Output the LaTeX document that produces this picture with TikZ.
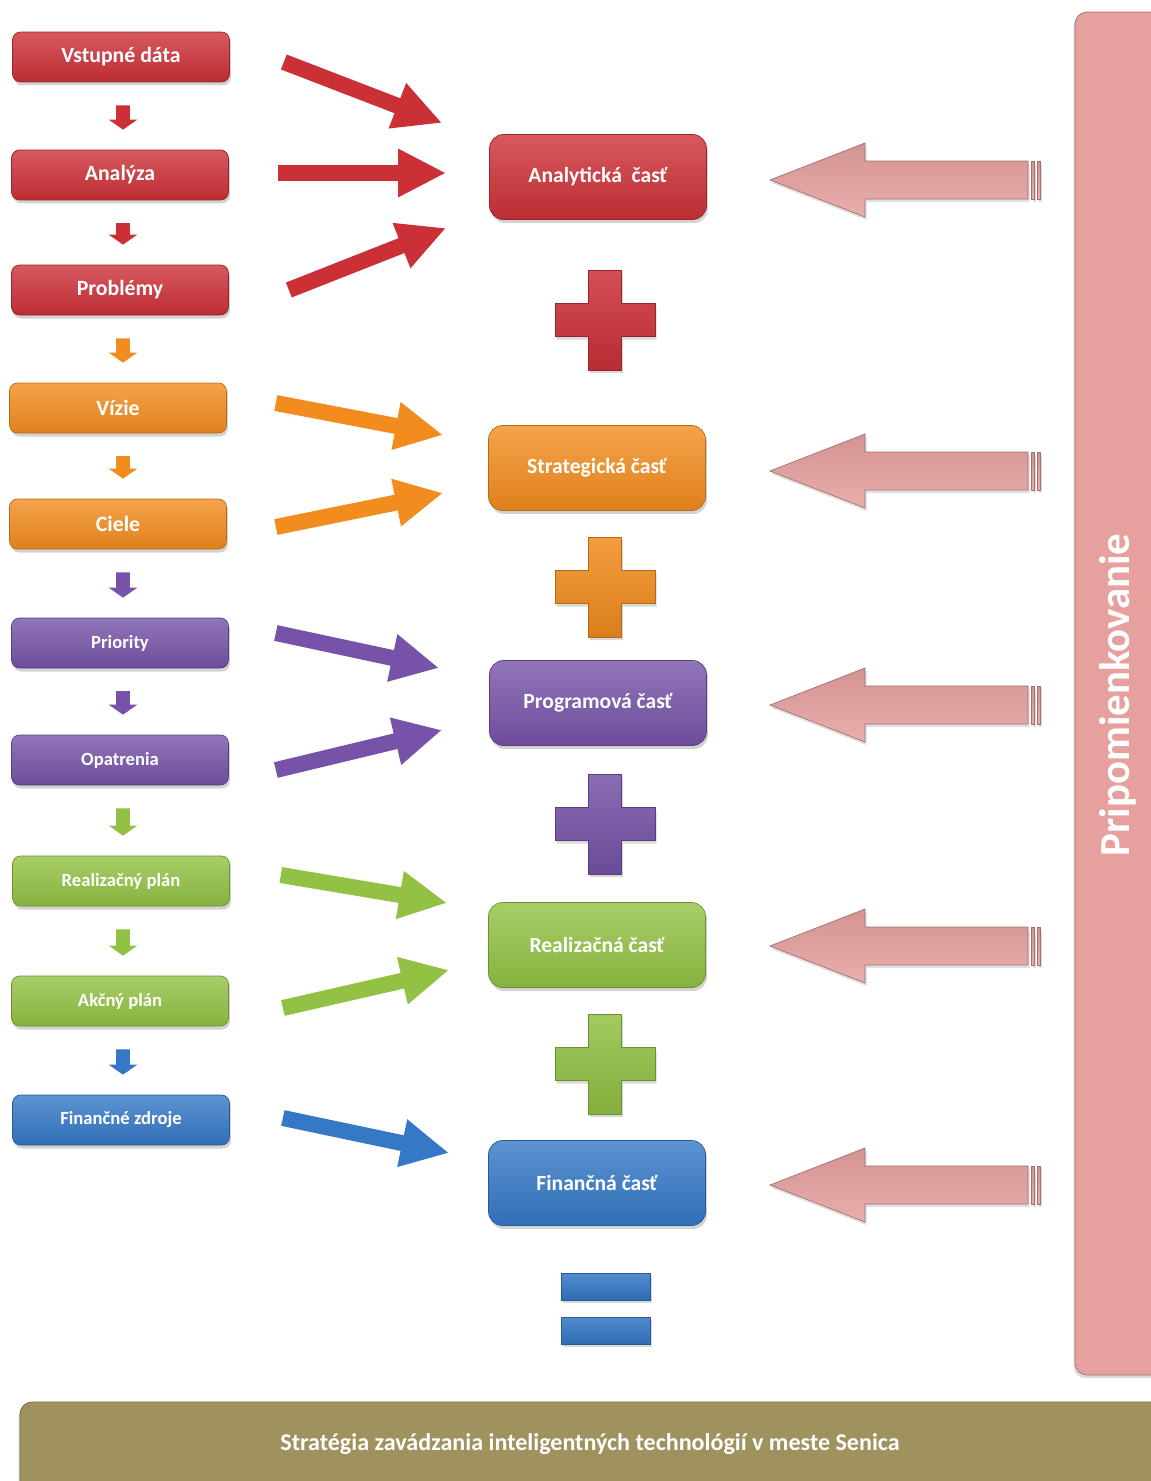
\documentclass[tikz,border=0pt]{standalone}
\usepackage{fontspec}
\setmainfont{Carlito}
\usetikzlibrary{positioning, calc, arrows.meta, shadows}

\definecolor{cred}{HTML}{CC3037}
\definecolor{corange}{HTML}{F28C1E}
\definecolor{cpurple}{HTML}{7653A8}
\definecolor{cgreen}{HTML}{92C143}
\definecolor{cblue}{HTML}{3478C6}
\definecolor{cpink}{HTML}{E6A09E}
\definecolor{colive}{HTML}{A0925E}

\begin{document}
\begin{tikzpicture}[x=0.02cm, y=-0.02cm,
    box/.style={rounded corners=0.16cm, minimum width=4.34cm, minimum height=1cm,
        draw=#1!75!black, top color=#1!80!white, bottom color=#1!92!black,
        text=white, font=\bfseries\fontsize{12.4}{14}\selectfont,
        drop shadow={opacity=0.35, shadow xshift=0.03cm, shadow yshift=-0.07cm}},
    smallbox/.style={box=#1, font=\bfseries\fontsize{10.6}{12}\selectfont},
    partbox/.style={box=#1, rounded corners=0.28cm, minimum height=1.7cm,
        font=\bfseries\fontsize{12.3}{14}\selectfont},
    smallarrow/.style={draw=#1, line width=0.28cm, shorten <=0.46cm, shorten >=0.4cm,
        -{Triangle[length=0.2cm, width=0.56cm]}},
    bigarrow/.style={draw=#1, line width=0.32cm, -{Triangle[length=0.96cm, width=0.9cm]}},
    plus/.style={draw=#1!75!black, top color=#1!85!white, bottom color=#1!90!black,
        drop shadow={opacity=0.3, shadow xshift=0.03cm, shadow yshift=-0.06cm}},
    pinkarrow/.style={draw=cpink!70!black, top color=cpink!92!black, bottom color=cpink!85!white,
        drop shadow={opacity=0.25, shadow xshift=0.03cm, shadow yshift=-0.06cm}},
    band/.style={rounded corners=0.24cm, draw=#1!70!black, fill=#1,
        drop shadow={opacity=0.3, shadow xshift=-0.03cm, shadow yshift=-0.06cm}}]

    \useasboundingbox (0,0) rectangle (1151,1481);

    % left column
    \node[box=cred] (vstup) at (121,57) {Vstupné dáta};
    \node[box=cred] (analyza) at (120,175) {Analýza};
    \node[box=cred] (problemy) at (120,290) {Problémy};
    \node[box=corange] (vizie) at (118,408) {Vízie};
    \node[box=corange] (ciele) at (118,524) {Ciele};
    \node[smallbox=cpurple] (priority) at (120,643) {Priority};
    \node[smallbox=cpurple] (opatrenia) at (120,760) {Opatrenia};
    \node[smallbox=cgreen] (realplan) at (121,881) {Realizačný plán};
    \node[smallbox=cgreen] (akcny) at (120,1001) {Akčný plán};
    \node[smallbox=cblue] (finzdroje) at (121,1120) {Finančné zdroje};

    \draw[smallarrow=cred] ([xshift=0.04cm]vstup.south) -- ([xshift=0.06cm]analyza.north);
    \draw[smallarrow=cred] ([xshift=0.06cm]analyza.south) -- ([xshift=0.06cm]problemy.north);
    \draw[smallarrow=corange] ([xshift=0.06cm]problemy.south) -- ([xshift=0.1cm]vizie.north);
    \draw[smallarrow=corange] ([xshift=0.1cm]vizie.south) -- ([xshift=0.1cm]ciele.north);
    \draw[smallarrow=cpurple] ([xshift=0.1cm]ciele.south) -- ([xshift=0.06cm]priority.north);
    \draw[smallarrow=cpurple] ([xshift=0.06cm]priority.south) -- ([xshift=0.06cm]opatrenia.north);
    \draw[smallarrow=cgreen] ([xshift=0.06cm]opatrenia.south) -- ([xshift=0.04cm]realplan.north);
    \draw[smallarrow=cgreen] ([xshift=0.04cm]realplan.south) -- ([xshift=0.06cm]akcny.north);
    \draw[smallarrow=cblue] ([xshift=0.06cm]akcny.south) -- ([xshift=0.04cm]finzdroje.north);

    % middle column
    \node[partbox=cred] (analytc) at (598,177) {Analytická~ časť};
    \node[partbox=corange] (strategc) at (597,468) {Strategická časť};
    \node[partbox=cpurple] (programc) at (598,703) {Programová časť};
    \node[partbox=cgreen] (realizc) at (597,945) {Realizačná časť};
    \node[partbox=cblue] (financc) at (597,1183) {Finančná časť};

    \draw[bigarrow=cred] ($(vstup.east)+(54,5)$) -- ($(analytc.west)+(-47,-54)$);
    \draw[bigarrow=cred] ($(analyza.east)+(49,-2)$) -- ($(analytc.west)+(-43,-4)$);
    \draw[bigarrow=cred] ($(problemy.east)+(60,0)$) -- ($(analytc.west)+(-43,51)$);
    \draw[bigarrow=corange] ($(vizie.east)+(49,-5)$) -- ($(strategc.west)+(-45,-33)$);
    \draw[bigarrow=corange] ($(ciele.east)+(49,3)$) -- ($(strategc.west)+(-45,25)$);
    \draw[bigarrow=cpurple] ($(priority.east)+(47,-10)$) -- ($(programc.west)+(-50,-35)$);
    \draw[bigarrow=cpurple] ($(opatrenia.east)+(47,10)$) -- ($(programc.west)+(-47,27)$);
    \draw[bigarrow=cgreen] ($(realplan.east)+(51,-6)$) -- ($(realizc.west)+(-41,-42)$);
    \draw[bigarrow=cgreen] ($(akcny.east)+(54,7)$) -- ($(realizc.west)+(-39,25)$);
    \draw[bigarrow=cblue] ($(finzdroje.east)+(53,-2)$) -- ($(financc.west)+(-39,-30)$);

    % plus and equals signs
    \foreach \c/\py in {cred/320, corange/587, cpurple/824, cgreen/1064}
        \path[plus=\c] (588.5,\py-50) -- (621.5,\py-50) -- (621.5,\py-16.5) -- (655,\py-16.5)
            -- (655,\py+16.5) -- (621.5,\py+16.5) -- (621.5,\py+50) -- (588.5,\py+50)
            -- (588.5,\py+16.5) -- (555,\py+16.5) -- (555,\py-16.5) -- (588.5,\py-16.5) -- cycle;
    \path[plus=cblue] (561,1273) rectangle (650,1300);
    \path[plus=cblue] (561,1317) rectangle (650,1344);

    % pink arrows
    \foreach \py in {180,471,705,946,1185} {
        \path[pinkarrow] (770,\py) -- (865,\py-37) -- (865,\py-19) -- (1028,\py-19)
            -- (1028,\py+19) -- (865,\py+19) -- (865,\py+37) -- cycle;
        \path[pinkarrow] (1031,\py-19) rectangle (1034,\py+19);
        \path[pinkarrow] (1037,\py-19) rectangle (1040,\py+19);
    }

    % side and bottom bands
    \path[band=cpink] (1075,12) rectangle (1200,1375);
    \node[rotate=90, text=white, font=\bfseries\fontsize{24.4}{28}\selectfont] (pripom) at (1118,695) {Pripomienkovanie};
    \path[band=colive] (20,1402) rectangle (1200,1530);
    \node[text=white, font=\bfseries\fontsize{13.7}{16}\selectfont] (strategia) at (590,1444) {Stratégia zavádzania inteligentných technológií v meste Senica};
\end{tikzpicture}
\end{document}
